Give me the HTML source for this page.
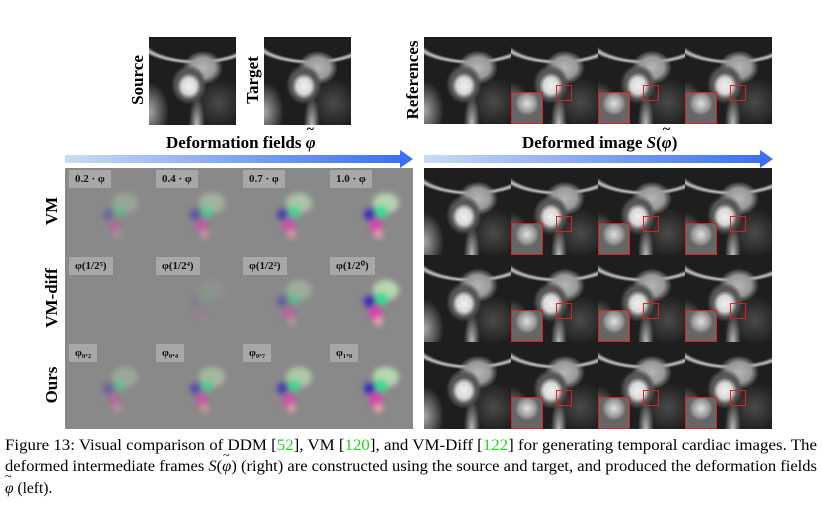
<!DOCTYPE html>
<html><head><meta charset="utf-8">
<style>
body{margin:0;width:822px;height:511px;background:#fff;position:relative;overflow:hidden;font-family:"Liberation Serif",serif}
.abs{position:absolute}
.mri{position:absolute;width:87px;height:88px;overflow:hidden;background:
radial-gradient(ellipse 12px 13px at 46% 56%,#f0f0f0 0,#d8d8d8 60%,rgba(0,0,0,0) 100%),
radial-gradient(ellipse 18px 20px at 46% 54%,#666 0,#555 75%,rgba(0,0,0,0) 100%),
radial-gradient(ellipse 20px 17px at 62% 35%,#b5b5b5 0,#999 60%,rgba(0,0,0,0) 100%),
radial-gradient(ellipse 75px 32px at 55% 0%,rgba(0,0,0,0) 70%,#c8c8c8 78%,rgba(0,0,0,0) 86%),
radial-gradient(ellipse 8px 30px at 55% 100%,#bbb 0,rgba(0,0,0,0) 100%),
radial-gradient(ellipse 20px 30px at 0% 85%,#aaa 0,rgba(0,0,0,0) 100%),
radial-gradient(ellipse 25px 25px at 80% 75%,#4a4a4a 0,rgba(0,0,0,0) 100%),
#1e1e1e}
.field{position:absolute;width:87px;height:87px;background:#898989;overflow:hidden}
.blob{position:absolute;border-radius:50%;filter:blur(3px)}
.lab{position:absolute;left:4px;top:2px;height:18px;padding:0 6px;background:#a8a8a8;font-size:11px;line-height:18px;font-weight:bold;color:#111}
.zoom{position:absolute;border:1.5px solid #e02020;box-sizing:border-box}
.rowlab{position:absolute;font-weight:bold;font-size:17px;transform:rotate(-90deg);transform-origin:center;white-space:nowrap;text-align:center;width:90px}
.arrow{position:absolute;height:8px;background:linear-gradient(90deg,#c9dcf3,#3b6ff5)}
.arrow:after{content:"";position:absolute;right:-12px;top:-5px;border-left:13px solid #3b6ff5;border-top:9px solid transparent;border-bottom:9px solid transparent}
.head{position:absolute;font-weight:bold;font-size:17px;white-space:nowrap}
.tphi{position:relative;display:inline-block;font-style:italic}
.tphi:before{content:"~";position:absolute;left:1px;top:-11px;font-style:normal;font-size:14px}
</style></head><body>
<div class="mri" style="left:149px;top:37px"></div>
<div class="mri" style="left:264px;top:37px"></div>
<div class="rowlab" style="left:93px;top:70px">Source</div>
<div class="rowlab" style="left:208px;top:70px">Target</div>
<div class="rowlab" style="left:368px;top:70px">References</div>
<div class="head" style="left:166px;top:133px">Deformation fields <span class="tphi">φ</span></div>
<div class="head" style="left:522px;top:133px">Deformed image <i>S</i>(<span class="tphi">φ</span>)</div>
<div class="arrow" style="left:65px;top:155px;width:336px"></div>
<div class="arrow" style="left:424px;top:155px;width:337px"></div>
<div class="rowlab" style="left:7px;top:201px">VM</div>
<div class="rowlab" style="left:7px;top:288px">VM-diff</div>
<div class="rowlab" style="left:7px;top:375px">Ours</div>
<div id="grid"></div>
<svg class="abs" style="left:0;top:429px" width="822" height="82">
<text x="5" y="21" font-size="15.5" textLength="812" lengthAdjust="spacingAndGlyphs" font-family="Liberation Serif,serif">Figure 13: Visual comparison of DDM [<tspan fill="#22d422">52</tspan>], VM [<tspan fill="#22d422">120</tspan>], and VM-Diff [<tspan fill="#22d422">122</tspan>] for generating temporal cardiac images. The</text>
<text x="5" y="42" font-size="15.5" textLength="812" lengthAdjust="spacingAndGlyphs" font-family="Liberation Serif,serif">deformed intermediate frames <tspan font-style="italic">S</tspan>(<tspan font-style="italic">φ</tspan>) (right) are constructed using the source and target, and produced the deformation fields</text>
<text x="5" y="64" font-size="15.5" font-family="Liberation Serif,serif"><tspan font-style="italic">φ</tspan> (left).</text>
<text x="5" y="51" font-size="12" font-family="Liberation Serif,serif">~</text>
<text x="223" y="30" font-size="12" font-family="Liberation Serif,serif">~</text>
</svg>
<script>
var rows=['vm','vm-diff','ours'];
var labels=[['0.2 · φ','0.4 · φ','0.7 · φ','1.0 · φ'],['φ(1/2⁵)','φ(1/2⁴)','φ(1/2²)','φ(1/2⁰)'],['φ₀.₂','φ₀.₄','φ₀.₇','φ₁.₀']];
var strength=[[0.35,0.55,0.75,0.95],[0.0,0.1,0.45,1],[0.4,0.6,0.8,1]];
var g=document.getElementById('grid');
var tops=[168,255,342];
for(var r=0;r<3;r++){for(var c=0;c<4;c++){
 var f=document.createElement('div');f.className='field';
 
 
 f.style.left=(65+c*87)+'px';f.style.top=tops[r]+'px';
 var s=strength[r][c];
 var bl=[['#b8d8b0',60,35,26,20],['#30e090',54,44,13,13],['#e040b0',49,57,13,15],['#f0a0b0',52,66,9,10],['#3020c0',43,46,10,11]];
 bl.forEach(function(b){var d=document.createElement('div');d.className='blob';d.style.background=b[0];d.style.opacity=s;d.style.left=(b[1]-b[3]/2)+'px';d.style.top=(b[2]-b[4]/2)+'px';d.style.width=b[3]+'px';d.style.height=b[4]+'px';f.appendChild(d);});
 var l=document.createElement('div');l.className='lab';l.textContent=labels[r][c];
 
 
 f.appendChild(l);g.appendChild(f);
}}
var mtops=[37,168,255,342];
for(var r=0;r<4;r++){for(var c=0;c<4;c++){
 var m=document.createElement('div');m.className='mri';
 
 
 m.style.left=(424+c*87)+'px';m.style.top=mtops[r]+'px';m.style.height='87px';
 g.appendChild(m);
 if(c>0){
  var z=document.createElement('div');z.className='zoom';
  
  
  z.style.left=(424+c*87+45)+'px';z.style.top=(mtops[r]+48)+'px';z.style.width='16px';z.style.height='16px';g.appendChild(z);
  var z2=document.createElement('div');z2.className='zoom';
  
  
  z2.style.left=(424+c*87)+'px';z2.style.top=(mtops[r]+55)+'px';z2.style.width='32px';z2.style.height='32px';
  z2.style.background='radial-gradient(ellipse 12px 12px at 50% 35%,#e0e0e0,#999 70%,#666)';g.appendChild(z2);
 }
}}
</script>
</body></html>
